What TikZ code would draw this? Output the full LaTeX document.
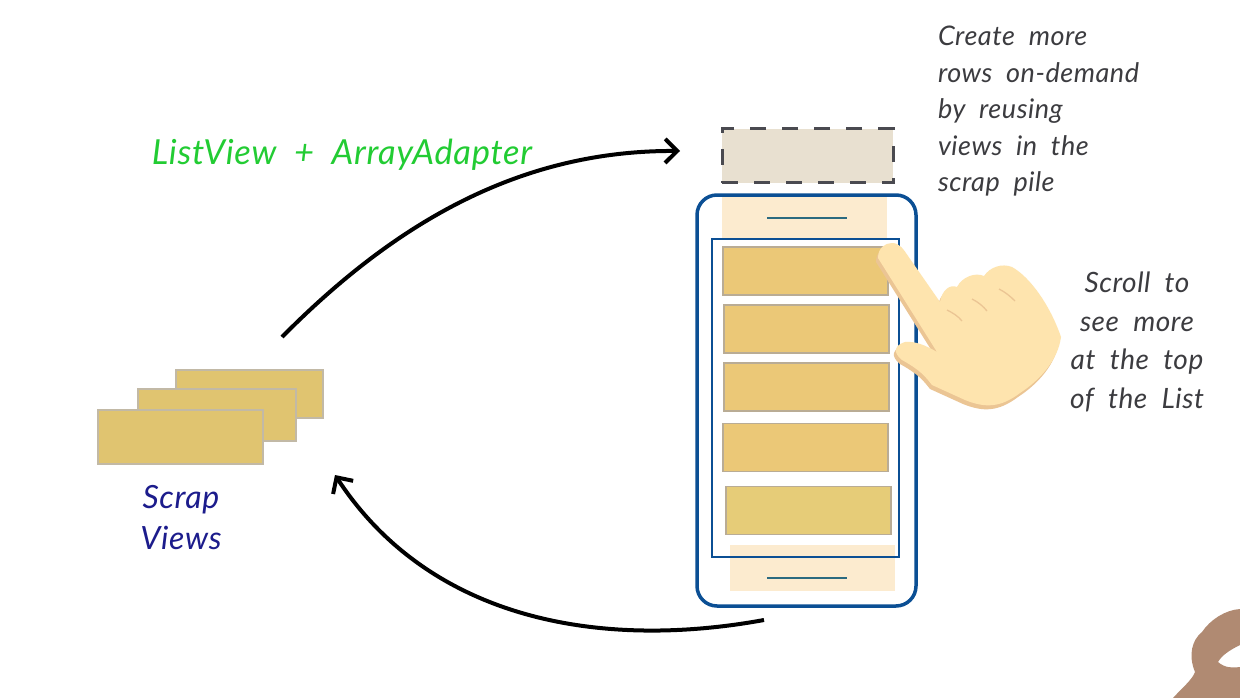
\documentclass[tikz,border=0pt]{standalone}
\usepackage{fontspec}
\setmainfont{Lato}[WordSpace=2,LetterSpace=2]
\usetikzlibrary{arrows.meta,positioning}
\definecolor{rowfill}{HTML}{EBC877}
\definecolor{rowlast}{HTML}{E6CC78}
\definecolor{rowline}{HTML}{B9AC95}
\definecolor{scrapfill}{HTML}{E0C470}
\definecolor{scrapline}{HTML}{C2B9A6}
\definecolor{phoneblue}{HTML}{0B4F94}
\definecolor{barbeige}{HTML}{FCEBCF}
\definecolor{barline}{HTML}{2B6A80}
\definecolor{handfill}{HTML}{FEE4AE}
\definecolor{handedge}{HTML}{EBC594}
\definecolor{notegrey}{HTML}{3C3C40}
\definecolor{newrow}{HTML}{E8E0D0}
\definecolor{newdash}{HTML}{4A4A50}
\definecolor{blobbrown}{HTML}{B08A72}
\definecolor{scrapblue}{HTML}{1C1C8C}
\definecolor{titlegreen}{HTML}{22CC33}
\newcommand{\handpath}{(878,258) .. controls (878,248) and (885,243) .. (892,243) .. controls (900,243) and (904,250) .. (908,256) -- (940,302) .. controls (942,290) and (950,284) .. (957,287) .. controls (962,277) and (975,272) .. (984,276) .. controls (990,267) and (1002,263) .. (1012,267) .. controls (1030,277) and (1050,305) .. (1061,337) .. controls (1058,360) and (1040,380) .. (1020,393) .. controls (1000,408) and (985,408) .. (965,400) -- (932,385) .. controls (925,376) and (920,370) .. (902,360) .. controls (892,352) and (895,345) .. (905,342) .. controls (915,341) and (925,345) .. (937,352) -- cycle}
\begin{document}
\begin{tikzpicture}[x=1pt,y=-1pt,inner sep=0pt,outer sep=0pt,
 rowbox/.style={draw=rowline,fill=rowfill,line width=1.5pt,minimum width=165pt,minimum height=48pt},
 scrapbox/.style={draw=scrapline,fill=scrapfill,line width=1.5pt,minimum height=#1},
 barbox/.style={fill=barbeige,minimum width=165pt,minimum height=#1},
 barmark/.style={draw=barline,line width=2.5pt},
 note/.style={text=notegrey,font=\fontsize{27}{36.6}\selectfont\itshape,align=left},
 flow/.style={draw=black,line width=4pt,-{Straight Barb[length=12pt,width=24pt,line width=4pt]}}]
\useasboundingbox[fill=white] (0,0) rectangle (1240,698);
\node[scrapbox=48pt,minimum width=147pt] (S3) at (249.5,394) {};
\node[scrapbox=52pt,minimum width=158pt] (S2) at (217,415) {};
\node[scrapbox=54pt,minimum width=165pt] (S1) at (180.5,437) {};
\node[text=scrapblue,font=\fontsize{32}{41}\selectfont\itshape,align=center] (SV) at (181,518) {Scrap\\Views};
\node[draw=newdash,dash pattern=on 16pt off 16pt,line width=3pt,fill=newrow,minimum width=171pt,minimum height=54pt] (NR) at (807.5,156) {};
\node[draw=phoneblue,line width=3.5pt,rounded corners=20pt,minimum width=219pt,minimum height=411pt] (PH) at (806.5,400.5) {};
\node[barbox=41pt] (HB) at (804.5,217) {};
\node[barbox=46pt] (FB) at (812,568) {};
\coordinate (HA) at (767,218);
\coordinate (HZ) at (847,218);
\coordinate (FA) at (767,578);
\coordinate (FZ) at (847,578);
\draw[barmark] (HA) -- (HZ);
\draw[barmark] (FA) -- (FZ);
\node[draw=phoneblue,line width=1.2pt,minimum width=187pt,minimum height=318pt] (LV) at (805.5,398) {};
\node[rowbox] (R1) at (805.5,271) {};
\node[rowbox] (R2) at (806.5,329) {};
\node[rowbox] (R3) at (806.5,387) {};
\node[rowbox] (R4) at (805.5,447.5) {};
\node[rowbox,fill=rowlast] (R5) at (808.5,510.5) {};
\fill[handedge,shift={(-2pt,-4pt)}] \handpath;
\fill[handfill] \handpath;
\draw[handedge,line width=1.3pt] (947,310) .. controls (953,313) and (958,316) .. (962,321);
\draw[handedge,line width=1.3pt] (972,299) .. controls (978,302) and (983,306) .. (987,311);
\draw[handedge,line width=1.3pt] (999,289) .. controls (1005,292) and (1010,296) .. (1015,301);
\fill[blobbrown] (1173,698) .. controls (1182,688) and (1192,680) .. (1195,672) .. controls (1188,655) and (1192,640) .. (1202,632) .. controls (1210,620) and (1225,610) .. (1240,609) -- (1240,645) .. controls (1230,650) and (1222,655) .. (1218,662) .. controls (1225,668) and (1232,668) .. (1240,667) -- (1240,698) -- cycle;
\coordinate (PO) at (282,337);
\coordinate (NI) at (680,151);
\coordinate (PB) at (764,620);
\coordinate (SI) at (335,475);
\draw[flow] (PO) .. controls (390,228) and (515,150) .. (NI);
\draw[flow] (PB) .. controls (600,650) and (430,620) .. (SI);
\node[text=titlegreen,font=\fontsize{34.5}{40}\selectfont\itshape] (LA) at (342,155) {ListView + ArrayAdapter};
\node[note,anchor=north west] (NT) at (938,26) {Create more\\rows on-demand\\by reusing\\views in the\\scrap pile};
\node[note,align=center,font=\fontsize{28}{38.7}\selectfont\itshape] (ST) at (1137,342) {Scroll to\\see more\\at the top\\of the List};
\end{tikzpicture}
\end{document}
